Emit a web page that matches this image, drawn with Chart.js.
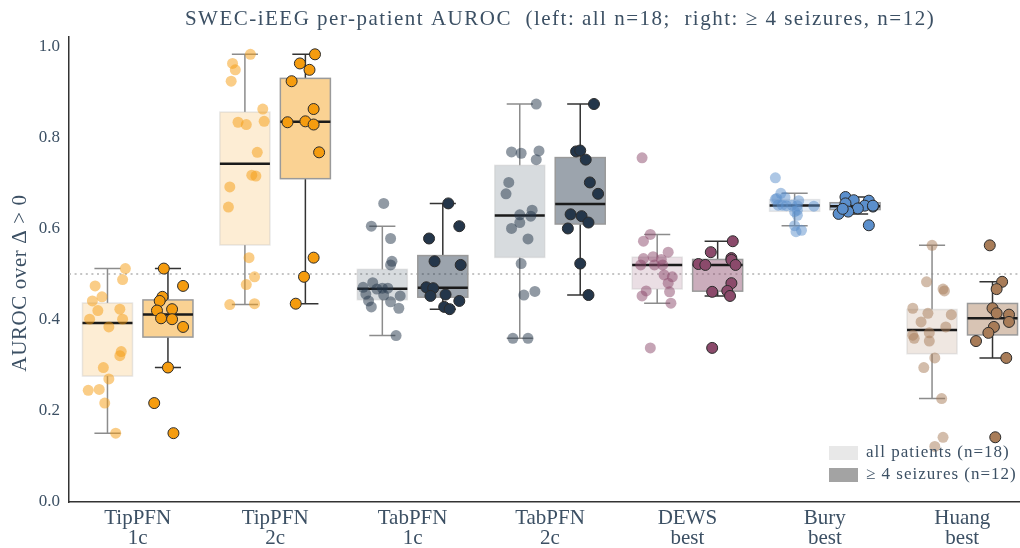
<!DOCTYPE html>
<html lang="en">
<head>
<meta charset="UTF-8">
<title>SWEC-iEEG per-patient AUROC</title>
<script src="https://cdn.jsdelivr.net/npm/chart.js"></script>
<style>
  body { margin: 0; background: #fff; }
</style>
</head>
<body>
<canvas id="myChart" width="1020" height="548"></canvas>
<script>
// methods on the x axis (two-line labels)
const methods = [['TipPFN', '1c'], ['TipPFN', '2c'], ['TabPFN', '1c'], ['TabPFN', '2c'],
                 ['DEWS', 'best'], ['Bury', 'best'], ['Huang', 'best']];
const methodColors = ['#f59c0f', '#f59c0f', '#24364a', '#24364a', '#8b4a6b', '#5b8fcc', '#a87c58'];
const yTicks = [0, 0.2, 0.4, 0.6, 0.8, 1.0];

// per-patient AUROC, all patients (n=18)
const tip1cAll = [0.512, 0.488, 0.474, 0.450, 0.441, 0.420, 0.423, 0.401, 0.401, 0.384, 0.330, 0.321, 0.295, 0.270, 0.245, 0.247, 0.217, 0.151];
const tip2cAll = [0.982, 0.962, 0.948, 0.923, 0.862, 0.835, 0.833, 0.828, 0.767, 0.717, 0.715, 0.691, 0.647, 0.536, 0.494, 0.477, 0.433, 0.435];
const tab1cAll = [0.655, 0.605, 0.578, 0.528, 0.520, 0.481, 0.471, 0.469, 0.469, 0.467, 0.456, 0.454, 0.452, 0.441, 0.439, 0.428, 0.425, 0.365];
const tab2cAll = [0.873, 0.768, 0.765, 0.770, 0.751, 0.701, 0.676, 0.640, 0.630, 0.627, 0.613, 0.600, 0.577, 0.523, 0.462, 0.454, 0.359, 0.359];
const dewsAll  = [0.755, 0.587, 0.572, 0.548, 0.534, 0.538, 0.532, 0.520, 0.520, 0.520, 0.498, 0.494, 0.480, 0.463, 0.461, 0.452, 0.436, 0.338];
const buryAll  = [0.711, 0.677, 0.666, 0.668, 0.651, 0.650, 0.651, 0.661, 0.650, 0.640, 0.637, 0.649, 0.629, 0.606, 0.593, 0.596, 0.651, 0.664];
const huangAll = [0.563, 0.483, 0.467, 0.463, 0.425, 0.411, 0.414, 0.395, 0.384, 0.366, 0.359, 0.371, 0.353, 0.316, 0.295, 0.227, 0.142, 0.122];

// horizontal jitter of each point (x units)
const tip1cAllJit = [0.13, 0.11, -0.09, -0.04, -0.11, -0.07, 0.09, -0.13, 0.11, 0.01, 0.10, 0.09, -0.03, 0.01, -0.14, -0.06, -0.02, 0.06];
const tip2cAllJit = [0.04, -0.09, -0.07, -0.10, 0.13, 0.14, -0.05, 0.01, 0.09, 0.05, 0.08, -0.11, -0.12, 0.03, 0.07, 0.01, -0.11, 0.07];
const tab1cAllJit = [0.01, -0.08, 0.06, 0.07, 0.06, -0.07, -0.14, 0.00, 0.04, -0.04, -0.12, 0.01, 0.13, -0.10, 0.06, -0.08, 0.12, 0.10];
const tab2cAllJit = [0.12, -0.06, 0.01, 0.14, 0.12, -0.08, -0.10, 0.09, 0.00, 0.08, 0.00, -0.06, 0.06, 0.01, 0.11, 0.03, -0.05, 0.06];
const dewsAllJit  = [-0.11, -0.05, -0.10, 0.08, -0.10, -0.03, 0.03, -0.12, -0.02, 0.04, 0.05, 0.11, 0.08, -0.08, 0.09, -0.11, 0.10, -0.05];
const buryAllJit  = [-0.14, -0.10, -0.13, -0.07, -0.09, -0.06, -0.02, 0.03, 0.02, 0.02, 0.00, 0.14, 0.02, 0.00, 0.01, 0.05, -0.12, -0.14];
const huangAllJit = [0.00, -0.04, 0.08, 0.09, -0.14, 0.14, -0.03, -0.08, 0.10, -0.14, -0.13, -0.02, -0.02, 0.02, -0.06, 0.07, 0.08, 0.02];

// per-patient AUROC, patients with >= 4 seizures (n=12)
const tip1cSub = [0.512, 0.474, 0.450, 0.441, 0.420, 0.423, 0.403, 0.401, 0.384, 0.295, 0.217, 0.151];
const tip2cSub = [0.982, 0.962, 0.948, 0.923, 0.862, 0.833, 0.835, 0.828, 0.767, 0.536, 0.494, 0.435];
const tab1cSub = [0.655, 0.605, 0.578, 0.528, 0.520, 0.471, 0.469, 0.452, 0.455, 0.441, 0.428, 0.423];
const tab2cSub = [0.873, 0.769, 0.771, 0.751, 0.701, 0.676, 0.631, 0.627, 0.613, 0.600, 0.523, 0.454];
const dewsSub  = [0.572, 0.548, 0.535, 0.531, 0.522, 0.520, 0.520, 0.480, 0.461, 0.463, 0.452, 0.338];
const burySub  = [0.669, 0.662, 0.661, 0.655, 0.650, 0.648, 0.644, 0.637, 0.632, 0.607, 0.650, 0.643];
const huangSub = [0.563, 0.483, 0.467, 0.425, 0.414, 0.411, 0.395, 0.384, 0.371, 0.353, 0.316, 0.142];

const tip1cSubJit = [-0.03, 0.11, -0.04, -0.06, -0.08, 0.03, -0.05, 0.03, 0.11, 0.00, -0.10, 0.04];
const tip2cSubJit = [0.07, -0.04, 0.03, -0.10, 0.06, -0.13, 0.00, 0.06, 0.10, 0.06, -0.01, -0.07];
const tab1cSubJit = [0.04, 0.12, -0.10, -0.06, 0.13, -0.12, -0.07, -0.09, 0.02, 0.12, 0.01, 0.05];
const tab2cSubJit = [0.10, -0.03, 0.00, 0.04, 0.07, 0.13, -0.07, 0.01, 0.06, -0.09, 0.00, 0.06];
const dewsSubJit  = [0.11, -0.05, 0.10, 0.10, -0.14, -0.09, 0.13, 0.10, -0.04, 0.07, 0.09, -0.04];
const burySubJit  = [-0.07, -0.01, 0.10, -0.07, 0.07, 0.13, 0.02, -0.05, -0.12, 0.10, 0.13, -0.09];
const huangSubJit = [-0.02, 0.07, 0.03, 0.00, 0.03, 0.12, 0.12, 0.01, -0.03, -0.12, 0.10, 0.02];

const allVals = [tip1cAll, tip2cAll, tab1cAll, tab2cAll, dewsAll, buryAll, huangAll];
const allJit  = [tip1cAllJit, tip2cAllJit, tab1cAllJit, tab2cAllJit, dewsAllJit, buryAllJit, huangAllJit];
const subVals = [tip1cSub, tip2cSub, tab1cSub, tab2cSub, dewsSub, burySub, huangSub];
const subJit  = [tip1cSubJit, tip2cSubJit, tab1cSubJit, tab2cSubJit, dewsSubJit, burySubJit, huangSubJit];

const SIDE = 0.22;      // offset of left / right box from the group centre
const HALF_BOX = 0.182; // half box width
const HALF_CAP = 0.095; // half whisker cap width
const TEXT = '#3c5064';
const SERIF = '"Liberation Serif", "DejaVu Serif", serif';

function rgba(hex, a) {
    const n = parseInt(hex.slice(1), 16);
    return `rgba(${n >> 16}, ${(n >> 8) & 255}, ${n & 255}, ${a})`;
}

// quartiles like numpy (linear), whiskers at 1.5 IQR
function quantile(s, q) {
    const pos = (s.length - 1) * q, lo = Math.floor(pos);
    return lo + 1 < s.length ? s[lo] + (pos - lo) * (s[lo + 1] - s[lo]) : s[lo];
}
function boxStats(vals) {
    const s = vals.slice().sort((a, b) => a - b);
    const q1 = quantile(s, 0.25), med = quantile(s, 0.5), q3 = quantile(s, 0.75);
    const iqr = q3 - q1;
    const lo = s.find(v => v >= q1 - 1.5 * iqr);
    const hi = s.filter(v => v <= q3 + 1.5 * iqr).pop();
    return { q1, med, q3, lo, hi };
}

function drawBox(ctx, x, y, pos, st, color, strong) {
    const l = x.getPixelForValue(pos - HALF_BOX), r = x.getPixelForValue(pos + HALF_BOX);
    const c = x.getPixelForValue(pos);
    const cl = x.getPixelForValue(pos - HALF_CAP), cr = x.getPixelForValue(pos + HALF_CAP);
    const yq1 = y.getPixelForValue(st.q1), yq3 = y.getPixelForValue(st.q3);
    const ylo = y.getPixelForValue(st.lo), yhi = y.getPixelForValue(st.hi);

    // whiskers + caps
    ctx.strokeStyle = strong ? '#333333' : '#8c8c8c';
    ctx.lineWidth = 1.5;
    ctx.beginPath();
    ctx.moveTo(c, yq3); ctx.lineTo(c, yhi);
    ctx.moveTo(cl, yhi); ctx.lineTo(cr, yhi);
    ctx.moveTo(c, yq1); ctx.lineTo(c, ylo);
    ctx.moveTo(cl, ylo); ctx.lineTo(cr, ylo);
    ctx.stroke();

    // box
    ctx.fillStyle = rgba(color, strong ? 0.45 : 0.18);
    ctx.fillRect(l, yq3, r - l, yq1 - yq3);
    ctx.strokeStyle = strong ? '#9a9a9a' : 'rgba(190,190,190,0.35)';
    ctx.strokeRect(l, yq3, r - l, yq1 - yq3);

    // median
    ctx.strokeStyle = '#1a1a1a';
    ctx.lineWidth = 2.5;
    const ym = y.getPixelForValue(st.med);
    ctx.beginPath();
    ctx.moveTo(l, ym); ctx.lineTo(r, ym);
    ctx.stroke();
}

const boxPlugin = {
    id: 'boxes',
    beforeDatasetsDraw(chart) {
        const { ctx, chartArea, scales: { x, y } } = chart;
        ctx.save();
        // chance level
        const y05 = y.getPixelForValue(0.5);
        ctx.strokeStyle = '#b3b3b3';
        ctx.lineWidth = 1.5;
        ctx.setLineDash([2, 3.6]);
        ctx.beginPath();
        ctx.moveTo(chartArea.left, y05);
        ctx.lineTo(chartArea.right, y05);
        ctx.stroke();
        ctx.setLineDash([]);

        methods.forEach((m, i) => {
            drawBox(ctx, x, y, i - SIDE, boxStats(allVals[i]), methodColors[i], false);
            drawBox(ctx, x, y, i + SIDE, boxStats(subVals[i]), methodColors[i], true);
        });
        ctx.restore();
    },
    afterDraw(chart) {
        const { ctx, chartArea } = chart;
        ctx.save();
        ctx.fillStyle = TEXT;

        // title
        ctx.font = '21px ' + SERIF;
        ctx.letterSpacing = '1.5px';
        ctx.textAlign = 'center';
        ctx.textBaseline = 'middle';
        ctx.fillText('SWEC-iEEG per-patient AUROC  (left: all n=18;  right: \u2265 4 seizures, n=12)', 560, 19);

        // y axis title
        ctx.save();
        ctx.letterSpacing = '0.6px';
        ctx.translate(20, 283);
        ctx.rotate(-Math.PI / 2);
        ctx.fillText('AUROC over \u0394 > 0', 0, 0);
        ctx.restore();

        // legend
        const lx = chartArea.right - 191, ly = chartArea.bottom - 56;
        ctx.fillStyle = '#e8e8e8';
        ctx.fillRect(lx, ly, 29, 14);
        ctx.fillStyle = '#a3a3a3';
        ctx.fillRect(lx, ly + 22, 29, 14);
        ctx.fillStyle = TEXT;
        ctx.font = '17px ' + SERIF;
        ctx.letterSpacing = '1px';
        ctx.textAlign = 'left';
        ctx.fillText('all patients (n=18)', lx + 37, ly + 7);
        ctx.fillText('\u2265 4 seizures (n=12)', lx + 37, ly + 29);
        ctx.restore();
    }
};

const datasets = [];
methods.forEach((m, i) => {
    datasets.push({
        data: allVals[i].map((v, k) => ({ x: i - SIDE + allJit[i][k], y: v })),
        backgroundColor: rgba(methodColors[i], 0.5),
        borderWidth: 0,
        pointRadius: 5.5
    });
    datasets.push({
        data: subVals[i].map((v, k) => ({ x: i + SIDE + subJit[i][k], y: v })),
        backgroundColor: methodColors[i],
        borderColor: '#2b2b2b',
        borderWidth: 1,
        pointRadius: 5.5
    });
});

new Chart(document.getElementById('myChart'), {
    type: 'scatter',
    data: { datasets },
    options: {
        responsive: false,
        animation: false,
        layout: { autoPadding: false, padding: { top: 37, left: 0, right: 0, bottom: 0 } },
        plugins: { legend: { display: false }, tooltip: { enabled: false } },
        scales: {
            x: {
                type: 'linear',
                min: -0.5,
                max: 6.42,
                grid: { display: false, drawTicks: false },
                border: { display: true, color: '#333333', width: 1.5 },
                afterBuildTicks: s => { s.ticks = methods.map((m, i) => ({ value: i })); },
                afterFit: s => { s.height = 46; },
                ticks: {
                    autoSkip: false,
                    maxRotation: 0,
                    padding: 6,
                    color: TEXT,
                    font: { family: SERIF, size: 21, lineHeight: 0.97 },
                    callback: v => methods[v]
                }
            },
            y: {
                min: 0,
                max: 1.02,
                grid: { display: false, drawTicks: false },
                border: { display: true, color: '#333333', width: 1.5 },
                afterBuildTicks: s => { s.ticks = yTicks.map(v => ({ value: v })); },
                afterFit: s => { s.width = 69; },
                ticks: {
                    padding: 9,
                    color: TEXT,
                    font: { family: SERIF, size: 17 },
                    callback: v => v.toFixed(1)
                }
            }
        }
    },
    plugins: [boxPlugin]
});
</script>
</body>
</html>
